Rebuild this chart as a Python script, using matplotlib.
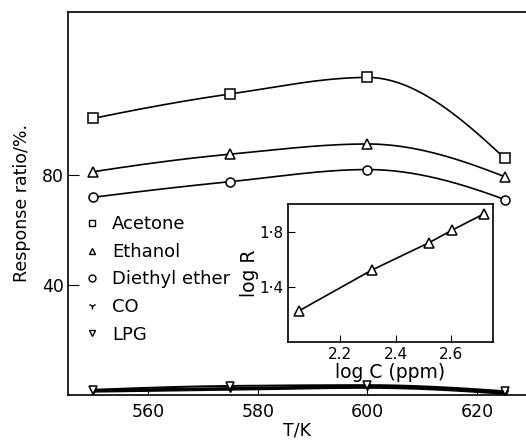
import numpy as np
import matplotlib
matplotlib.use("Agg")
import matplotlib.pyplot as plt
from matplotlib.lines import Line2D

# ---- data ----
temps = [550, 575, 600, 625]
acetone = [100.6, 109.5, 115.5, 86.1]
ethanol = [81.2, 87.6, 91.3, 79.4]
diethyl_ether = [71.9, 77.6, 82.0, 71.1]
co = [1.5, 2.2, 2.9, 0.7]
lpg = [1.9, 3.3, 3.6, 1.4]

inset_logc = [2.052, 2.315, 2.52, 2.603, 2.72]
inset_logr = [1.23, 1.524, 1.72, 1.81, 1.93]

main_xticks = [560, 580, 600, 620]
main_yticks = [40, 80]
inset_xticks = [2.2, 2.4, 2.6]
inset_yticks = [1.4, 1.8]
inset_yticklabels = ["1·4", "1·8"]


def _end_slope(h0, h1, d0, d1):
    m = ((2 * h0 + h1) * d0 - h0 * d1) / (h0 + h1)
    if np.sign(m) != np.sign(d0):
        m = 0.0
    elif np.sign(d0) != np.sign(d1) and abs(m) > abs(3 * d0):
        m = 3 * d0
    return m


def smooth(x, y, n=200):
    """Monotone piecewise cubic Hermite curve through the points."""
    x = np.asarray(x, float); y = np.asarray(y, float)
    h = np.diff(x)
    d = np.diff(y) / h
    k = len(x)
    m = np.zeros(k)
    m[0] = _end_slope(h[0], h[1], d[0], d[1])
    m[-1] = _end_slope(h[-1], h[-2], d[-1], d[-2])
    for i in range(1, k - 1):
        if d[i - 1] * d[i] <= 0:
            m[i] = 0.0
        else:
            w1 = 2 * h[i] + h[i - 1]
            w2 = h[i] + 2 * h[i - 1]
            m[i] = (w1 + w2) / (w1 / d[i - 1] + w2 / d[i])
    xs = np.linspace(x[0], x[-1], n)
    ys = np.empty_like(xs)
    for j, xv in enumerate(xs):
        i = min(np.searchsorted(x, xv, side="right") - 1, k - 2)
        t = (xv - x[i]) / h[i]
        h00 = 2 * t ** 3 - 3 * t ** 2 + 1
        h10 = t ** 3 - 2 * t ** 2 + t
        h01 = -2 * t ** 3 + 3 * t ** 2
        h11 = t ** 3 - t ** 2
        ys[j] = h00 * y[i] + h10 * h[i] * m[i] + h01 * y[i + 1] + h11 * h[i] * m[i + 1]
    return xs, ys


plt.rcParams['font.family'] = ['DejaVu Sans']
fig = plt.figure(figsize=(5.26, 4.44), dpi=100)
ax = fig.add_axes([68 / 526, 49 / 444, 1 - 68 / 526, (395 - 12) / 444])

for vals, mk in [(acetone, 's'), (ethanol, '^'), (diethyl_ether, 'o')]:
    xs, ys = smooth(temps, vals)
    ax.plot(xs, ys, color='black', lw=1.2, zorder=2)
    ax.plot(temps, vals, linestyle='none', marker=mk, ms=6.5, mfc='white',
            mec='black', mew=1.1, zorder=3)

xs, ys = smooth(temps, co)
ax.plot(xs, ys, color='black', lw=2.6, zorder=2)
ax.plot(temps, co, linestyle='none', marker='v', ms=5, color='black', zorder=3)
xs, ys = smooth(temps, lpg)
ax.plot(xs, ys, color='black', lw=1.4, zorder=2)
ax.plot(temps, lpg, linestyle='none', marker='v', ms=6, mfc='white',
        mec='black', mew=1.1, zorder=3)

ax.set_xlim(545.4, 628.9)
ax.set_ylim(0, 139.3)
ax.set_xticks(main_xticks)
ax.set_yticks(main_yticks)
ax.tick_params(axis='x', direction='in', length=5, labelsize=12.5, pad=6)
ax.tick_params(axis='y', direction='in', length=8, labelsize=12.5, pad=3)
ax.spines['right'].set_visible(False)
for s in ['left', 'bottom', 'top']:
    ax.spines[s].set_linewidth(1.2)
ax.set_xlabel('T/K', fontsize=12.5, labelpad=0)
ax.set_ylabel('Response ratio/%.', fontsize=12.5, labelpad=8)

handles = [
    Line2D([], [], ls='none', marker='s', ms=4.5, mfc='white', mec='black', label='Acetone'),
    Line2D([], [], ls='none', marker='^', ms=5, mfc='white', mec='black', label='Ethanol'),
    Line2D([], [], ls='none', marker='o', ms=5, mfc='white', mec='black', label='Diethyl ether'),
    Line2D([], [], ls='none', marker='1', ms=5, color='black', label='CO'),
    Line2D([], [], ls='none', marker='v', ms=5, mfc='white', mec='black', label='LPG'),
]
leg = ax.legend(handles=handles, loc='upper left', bbox_to_anchor=(0.018, 0.488),
                frameon=False, fontsize=13, handlelength=1.0, handletextpad=0.6,
                labelspacing=0.53, borderaxespad=0)

ins = fig.add_axes([288 / 526, (444 - 342) / 444, 205 / 526, 138 / 444])
ins.plot(inset_logc, inset_logr, color='black', lw=1.2, marker='^', ms=6.5,
         mfc='white', mec='black', mew=1.1)
ins.set_xlim(2.0126, 2.751)
ins.set_ylim(1.006, 1.999)
ins.set_xticks(inset_xticks)
ins.set_xticklabels(['2.2', '2.4', '2.6'])
ins.set_yticks(inset_yticks)
ins.set_yticklabels(inset_yticklabels)
ins.tick_params(direction='in', length=5, labelsize=11)
for s in ins.spines.values():
    s.set_linewidth(1.2)
ins.set_xlabel('log C (ppm)', fontsize=13.5, labelpad=1)
ins.set_ylabel('log R', fontsize=13.5, labelpad=0)

fig.savefig('out.png', dpi=100)
